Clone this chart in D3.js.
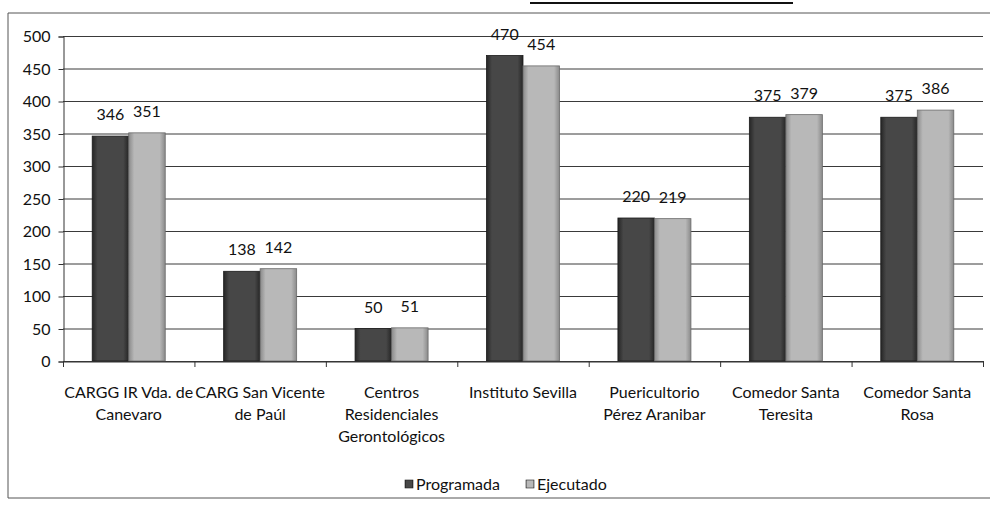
<!DOCTYPE html>
<html>
<head>
<meta charset="utf-8">
<script src="https://cdn.jsdelivr.net/npm/d3@7"></script>
<style>
  body { margin: 0; background: #fff; }
  svg { font-family: Lato, "Open Sans", sans-serif; }
</style>
</head>
<body>
<div id="container"></div>
<script>
// Programada vs Ejecutado by centro

const categories = [
    "CARGG IR Vda. de\nCanevaro",
    "CARG San Vicente\nde Paúl",
    "Centros\nResidenciales\nGerontológicos",
    "Instituto Sevilla",
    "Puericultorio\nPérez Aranibar",
    "Comedor Santa\nTeresita",
    "Comedor Santa\nRosa"
]
const seriesNames = ["Programada", "Ejecutado"]
const programada = [346, 138, 50, 470, 220, 375, 375]
const ejecutado = [351, 142, 51, 454, 219, 379, 386]
const yTicks = [0, 50, 100, 150, 200, 250, 300, 350, 400, 450, 500]

const width = 990,
    height = 511
const plot = { left: 63, right: 983, top: 36, bottom: 361 }

const svg = d3.select("#container").append("svg")
    .attr("width", width)
    .attr("height", height)

const defs = svg.append("defs")
const fills = { Programada: ["#262626", "#474747"], Ejecutado: ["#8a8a8a", "#b8b8b8"] }
seriesNames.forEach((s) => {
    const g = defs.append("linearGradient").attr("id", "g-" + s)
        .attr("x1", 0).attr("x2", 1).attr("y1", 0).attr("y2", 0)
    g.append("stop").attr("offset", "0%").attr("stop-color", fills[s][0])
    g.append("stop").attr("offset", "15%").attr("stop-color", fills[s][1])
    g.append("stop").attr("offset", "85%").attr("stop-color", fills[s][1])
    g.append("stop").attr("offset", "100%").attr("stop-color", fills[s][0])
})

// chart frame (scanned page, right edge cut off)
svg.append("path")
    .attr("d", `M${width + 5},13 L8,13 L8,498 L${width + 5},498`)
    .attr("fill", "none")
    .attr("stroke", "#555")
    .attr("stroke-width", 1)

// title underline fragment at the very top
svg.append("line")
    .attr("x1", 530).attr("x2", 793).attr("y1", 3).attr("y2", 3)
    .attr("stroke", "#111").attr("stroke-width", 2)

const x = d3.scaleBand()
    .domain(categories)
    .range([plot.left, plot.right])

const xInner = d3.scaleBand()
    .domain(seriesNames)
    .range([0, x.bandwidth()])
    .paddingInner(0)
    .paddingOuter(0.8)

const y = d3.scaleLinear()
    .domain([0, 500])
    .range([plot.bottom, plot.top])

// gridlines
svg.append("g").attr("class", "grid")
    .selectAll("line")
    .data(yTicks)
    .enter()
    .append("line")
    .attr("x1", plot.left)
    .attr("x2", plot.right)
    .attr("y1", (d) => y(d) + 0.5)
    .attr("y2", (d) => y(d) + 0.5)
    .attr("stroke", "#3a3a3a")
    .attr("stroke-width", 1)

// y axis
const yAxis = d3.axisLeft(y)
    .tickValues(yTicks)
    .tickSize(5)
    .tickPadding(8)

svg.append("g").attr("id", "y-axis")
    .attr("transform", `translate(${plot.left + 0.5},0.5)`)
    .call(yAxis)
    .call((g) => g.select(".domain").attr("stroke", "#333"))
    .call((g) => g.selectAll(".tick line").attr("stroke", "#333"))
    .call((g) => g.selectAll("text")
        .style("font-size", "16px")
        .style("font-family", "Lato, sans-serif")
        .attr("fill", "#111"))

// bars
const rows = categories.map((c, i) => ({ cat: c, values: [programada[i], ejecutado[i]] }))

const groups = svg.append("g").attr("id", "bars")
    .selectAll("g")
    .data(rows)
    .enter()
    .append("g")
    .attr("transform", (d) => `translate(${x(d.cat)},0)`)

groups.selectAll("rect")
    .data((d) => d.values.map((v, i) => ({ s: seriesNames[i], v: v })))
    .enter()
    .append("rect")
    .attr("x", (d) => xInner(d.s))
    .attr("width", xInner.bandwidth())
    .attr("y", (d) => y(d.v))
    .attr("height", (d) => y(0) - y(d.v))
    .attr("fill", (d) => `url(#g-${d.s})`)
    .attr("stroke", (d) => d.s === "Programada" ? "#1a1a1a" : "#6a6a6a")
    .attr("stroke-width", 0.8)

groups.selectAll("text")
    .data((d) => d.values.map((v, i) => ({ s: seriesNames[i], v: v })))
    .enter()
    .append("text")
    .attr("x", (d) => xInner(d.s) + xInner.bandwidth() / 2)
    .attr("y", (d) => y(d.v) - 16)
    .attr("text-anchor", "middle")
    .style("font-size", "16px")
    .attr("fill", "#111")
    .text((d) => d.v)

// x axis
const xAxis = d3.axisBottom(x)
    .tickSize(0)
    .tickFormat("")

svg.append("g").attr("id", "x-axis")
    .attr("transform", `translate(0,${plot.bottom + 0.5})`)
    .call(xAxis)
    .call((g) => g.select(".domain").attr("stroke", "#333"))

// boundary ticks between categories
svg.append("g")
    .selectAll("line")
    .data(categories.concat(["end"]))
    .enter()
    .append("line")
    .attr("x1", (d, i) => (i < categories.length ? x(d) : plot.right) + 0.5)
    .attr("x2", (d, i) => (i < categories.length ? x(d) : plot.right) + 0.5)
    .attr("y1", plot.bottom)
    .attr("y2", plot.bottom + 6)
    .attr("stroke", "#333")

svg.append("g").attr("id", "x-labels")
    .selectAll("text")
    .data(categories)
    .enter()
    .append("text")
    .attr("text-anchor", "middle")
    .attr("transform", (d) => `translate(${x(d) + x.bandwidth() / 2},${plot.bottom + 37})`)
    .style("font-size", "16px")
    .attr("fill", "#111")
    .each(function (d) {
        d3.select(this).selectAll("tspan")
            .data(d.split("\n"))
            .enter()
            .append("tspan")
            .attr("x", 0)
            .attr("dy", (t, i) => i === 0 ? 0 : 22)
            .text((t) => t)
    })

// legend
const legend = svg.append("g").attr("id", "legend")
    .attr("transform", "translate(405,484)")

const legendItems = legend.selectAll("g")
    .data(seriesNames)
    .enter()
    .append("g")
    .attr("transform", (d, i) => `translate(${i * 121},0)`)

legendItems.append("rect")
    .attr("x", 0)
    .attr("y", -4)
    .attr("width", 8)
    .attr("height", 8)
    .attr("fill", (d) => `url(#g-${d})`)
    .attr("stroke", "#222")
    .attr("stroke-width", 0.6)

legendItems.append("text")
    .attr("x", 11)
    .attr("y", 6)
    .style("font-size", "16px")
    .attr("fill", "#111")
    .text((d) => d)
</script>
</body>
</html>
